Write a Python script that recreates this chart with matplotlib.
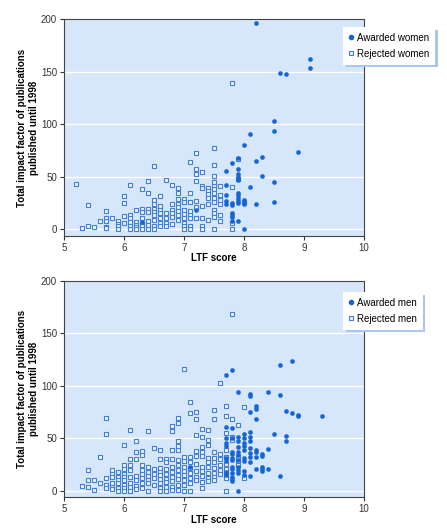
import matplotlib
matplotlib.use("Agg")
import matplotlib.pyplot as plt
from matplotlib.lines import Line2D

plt.rcParams['font.family'] = ['Liberation Sans', 'DejaVu Sans']

BG = "#d6e6fb"
DOT = "#1565d3"
SQ_EDGE = "#3f7fd6"
SQ_FACE = "#eef4fd"

# LTF score -> total impact factor values, read column by column
women_rejected = {
    5.2: [43], 5.3: [1], 5.4: [23, 3], 5.5: [2], 5.6: [8],
    5.7: [17, 10, 8, 2, 1], 5.8: [10], 5.9: [8, 5, 3, 0],
    6.0: [31, 25, 12, 6], 6.1: [42, 13, 10, 7, 3, 0], 6.2: [18, 7, 4, 2, 0],
    6.3: [38, 19, 16, 10, 5, 3, 0], 6.4: [46, 34, 19, 16, 8, 4, 0],
    6.5: [60, 28, 24, 19, 16, 13, 9, 3, 0], 6.6: [31, 22, 18, 15, 10, 6, 3],
    6.7: [47, 15, 10, 6, 3], 6.8: [42, 24, 18, 15, 11, 5],
    6.9: [39, 34, 29, 24, 21, 17, 13, 9], 7.0: [29, 26, 18, 14, 10, 6, 3, 0],
    7.1: [64, 34, 26, 17, 13, 10, 3, 0], 7.2: [72, 57, 52, 46, 27, 21, 10],
    7.3: [54, 41, 39, 22, 10, 3, 0], 7.4: [39, 36, 33, 30, 24, 9],
    7.5: [77, 61, 51, 45, 41, 38, 34, 30, 26, 18, 15, 11, 0],
    7.6: [41, 32, 28, 24, 13, 8], 7.8: [139, 40, 6, 0], 7.9: [67, 48],
    8.0: [26],
}
women_awarded = {
    6.3: [7], 7.2: [18], 7.7: [55, 42, 32, 27, 24],
    7.8: [63, 25, 23, 15, 13, 11, 8],
    7.9: [68, 57, 52, 50, 47, 34, 32, 30, 27, 25, 8],
    8.0: [80, 28, 25, 24, 0], 8.1: [91, 40], 8.2: [196, 65, 24],
    8.3: [69, 51], 8.5: [103, 93, 45, 26], 8.6: [149], 8.7: [148],
    8.9: [73], 9.1: [162, 154],
}
men_rejected = {
    5.3: [5], 5.4: [20, 10, 4], 5.5: [10, 1], 5.6: [32, 7],
    5.7: [69, 54, 12, 6, 3], 5.8: [20, 16, 13, 7, 4, 2],
    5.9: [18, 13, 10, 7, 3, 0], 6.0: [44, 25, 21, 16, 13, 10, 6, 3, 0],
    6.1: [58, 30, 25, 20, 13, 7, 4, 0], 6.2: [47, 37, 30, 14, 10, 5, 2],
    6.3: [38, 34, 25, 20, 16, 12, 7, 3], 6.4: [57, 23, 18, 14, 10, 7, 0],
    6.5: [41, 21, 16, 12, 6], 6.6: [39, 30, 22, 18, 15, 11, 7, 3, 0],
    6.7: [30, 27, 21, 16, 11, 8, 4, 0],
    6.8: [62, 57, 39, 30, 23, 18, 13, 9, 4, 1],
    6.9: [69, 65, 47, 43, 39, 29, 25, 20, 15, 11, 6, 1],
    7.0: [116, 32, 28, 23, 19, 15, 10, 6, 0],
    7.1: [85, 74, 32, 27, 22, 17, 12, 7, 0],
    7.2: [75, 68, 53, 38, 33, 26, 19, 13, 10],
    7.3: [59, 51, 42, 37, 33, 23, 19, 14, 8, 3],
    7.4: [58, 48, 44, 31, 27, 23, 17, 12, 9],
    7.5: [77, 68, 37, 31, 27, 22, 17, 13, 10],
    7.6: [103, 35, 30, 25, 20, 16],
    7.7: [81, 71, 55, 39, 32, 26, 21, 16, 12, 0],
    7.8: [169, 68, 51, 48], 7.9: [63, 32, 28, 25], 8.0: [80, 12],
}
men_awarded = {
    7.1: [23], 7.7: [110, 61, 50, 46, 43, 31, 28, 18, 15],
    7.8: [115, 60, 50, 37, 35, 31, 29, 23, 21, 17, 13, 11, 9],
    7.9: [94, 51, 47, 42, 37, 34, 29, 23, 20, 17, 0],
    8.0: [54, 50, 46, 43, 39, 31, 28, 19, 15],
    8.1: [92, 90, 75, 56, 51, 47, 41, 36, 32, 27, 14],
    8.2: [81, 78, 68, 39, 37, 32, 21], 8.3: [35, 33, 23, 21, 19],
    8.4: [94, 40, 21], 8.5: [54], 8.6: [120, 91, 14], 8.7: [76, 52, 47],
    8.8: [124, 74], 8.9: [72, 71], 9.3: [71],
}

panels = [
    (women_awarded, women_rejected, "Awarded women", "Rejected women",
     [0.1432, 0.5553, 0.671, 0.4083], (-6.4, 200), (0.767, 0.949)),
    (men_awarded, men_rejected, "Awarded men", "Rejected men",
     [0.1432, 0.0617, 0.671, 0.4081], (-6.2, 200), (0.767, 0.449)),
]


def flatten(cols):
    xs, ys = [], []
    for x, vals in cols.items():
        xs += [x] * len(vals)
        ys += vals
    return xs, ys


fig = plt.figure(figsize=(4.47, 5.30), dpi=100)

for awarded, rejected, lab_a, lab_r, rect, ylim, leg_pos in panels:
    ax = fig.add_axes(rect)
    ax.set_facecolor(BG)
    for y in [0, 50, 100, 150]:
        ax.axhline(y, color="white", lw=1.0, zorder=1)

    rx, ry = flatten(rejected)
    ax.plot(rx, ry, ls="none", marker="s", ms=3.0, mfc=SQ_FACE,
            mec=SQ_EDGE, mew=0.8, zorder=2)
    axx, ay = flatten(awarded)
    ax.plot(axx, ay, ls="none", marker="o", ms=3.0, mfc=DOT,
            mec=DOT, mew=0.3, zorder=3)

    ax.set_xlim(5, 10)
    ax.set_ylim(*ylim)
    ax.set_xticks([5, 6, 7, 8, 9, 10])
    ax.set_yticks([0, 50, 100, 150, 200])
    ax.tick_params(labelsize=7, length=3, width=0.8, colors="#333333",
                   pad=2)
    for s in ax.spines.values():
        s.set_color("#444444")
        s.set_linewidth(0.8)

    ax.set_xlabel("LTF score", fontsize=7, fontweight="bold", labelpad=0.5)
    ax.set_ylabel("Total impact factor of publications\npublished until 1998",
                  fontsize=7, fontweight="bold", labelpad=1.5)

    handles = [
        Line2D([], [], ls="none", marker="o", ms=3.0, mfc=DOT, mec=DOT),
        Line2D([], [], ls="none", marker="s", ms=3.0, mfc=SQ_FACE,
               mec=SQ_EDGE, mew=0.8),
    ]
    leg = fig.legend(handles, [lab_a, lab_r], loc="upper left",
                     bbox_to_anchor=leg_pos, fontsize=7, frameon=True,
                     fancybox=False, edgecolor="white", handlelength=0.5,
                     handletextpad=0.35, borderpad=0.6, labelspacing=0.6,
                     borderaxespad=0,
                     shadow={"color": "#a8c6ef", "alpha": 1.0})
    leg.get_frame().set_linewidth(0)

fig.savefig("out.png", dpi=100)
